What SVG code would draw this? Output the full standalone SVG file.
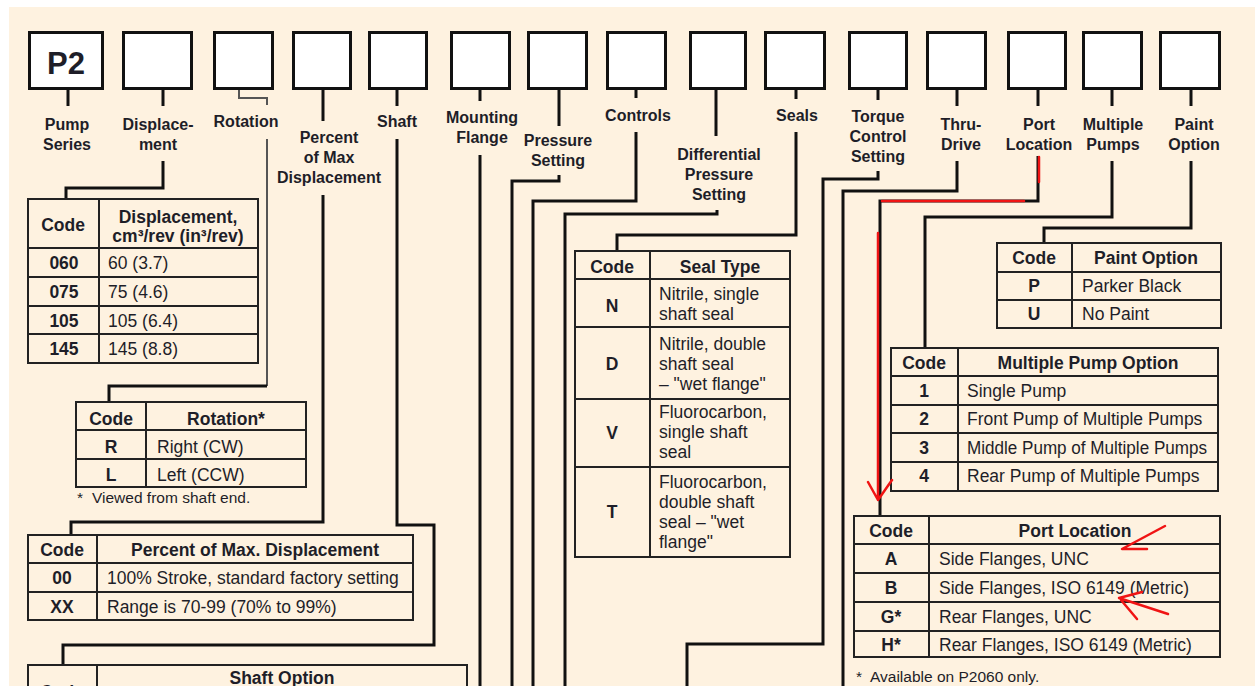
<svg xmlns="http://www.w3.org/2000/svg" width="1255" height="686" viewBox="0 0 1255 686">
<style>
.bx{fill:#fff;stroke:#111;stroke-width:3}
.ln{fill:none;stroke:#111;stroke-width:3}
.ln2{fill:none;stroke:#555;stroke-width:2}
.tb{fill:none;stroke:#222;stroke-width:2}
.red{fill:none;stroke:#f01414;stroke-width:2.5;stroke-linecap:round;stroke-linejoin:round}
text{font-family:"Liberation Sans",Arial,Helvetica,sans-serif;fill:#1e1e28}
.lbl{font-weight:bold;font-size:16px;text-anchor:middle}
.th{font-weight:bold;font-size:17.5px;text-anchor:middle}
.td{font-size:17.5px}
.fn{font-size:15.5px}
.p2{font-weight:bold;font-size:31px;text-anchor:middle}
</style>
<rect x="0" y="0" width="1255" height="686" fill="#fff"/>
<rect x="9" y="7" width="1246" height="679" fill="#fef2e0"/>

<g id="boxes">
<g id="box-p2"><rect class="bx" x="29.5" y="32.5" width="73" height="56"/><text class="p2" x="66" y="74">P2</text></g>
<g id="box-displacement"><rect class="bx" x="123.5" y="32.5" width="68" height="56"/></g>
<g id="box-rotation"><rect class="bx" x="214.5" y="32.5" width="58" height="56"/></g>
<g id="box-percent"><rect class="bx" x="293.5" y="32.5" width="57" height="56"/></g>
<g id="box-shaft"><rect class="bx" x="369.5" y="32.5" width="57" height="56"/></g>
<g id="box-mounting"><rect class="bx" x="451.5" y="32.5" width="58" height="56"/></g>
<g id="box-pressure"><rect class="bx" x="528.5" y="32.5" width="58" height="56"/></g>
<g id="box-controls"><rect class="bx" x="607.5" y="32.5" width="58" height="56"/></g>
<g id="box-diffpressure"><rect class="bx" x="690.5" y="32.5" width="55" height="56"/></g>
<g id="box-seals"><rect class="bx" x="765.5" y="32.5" width="59" height="56"/></g>
<g id="box-torque"><rect class="bx" x="849.5" y="32.5" width="57" height="56"/></g>
<g id="box-thru"><rect class="bx" x="927.5" y="32.5" width="58" height="56"/></g>
<g id="box-port"><rect class="bx" x="1008.5" y="32.5" width="57" height="56"/></g>
<g id="box-multiple"><rect class="bx" x="1083.5" y="32.5" width="58" height="56"/></g>
<g id="box-paint"><rect class="bx" x="1160.5" y="32.5" width="59" height="56"/></g>
</g>

<g id="labels">
<g id="lbl-pump"><text class="lbl" x="67" y="130">Pump</text><text class="lbl" x="67" y="150">Series</text></g>
<g id="lbl-displacement"><text class="lbl" x="158" y="130">Displace-</text><text class="lbl" x="158" y="150">ment</text></g>
<g id="lbl-rotation"><text class="lbl" x="246" y="127">Rotation</text></g>
<g id="lbl-percent"><text class="lbl" x="329" y="143">Percent</text><text class="lbl" x="329" y="163">of Max</text><text class="lbl" x="329" y="183">Displacement</text></g>
<g id="lbl-shaft"><text class="lbl" x="397" y="127">Shaft</text></g>
<g id="lbl-mounting"><text class="lbl" x="482" y="123">Mounting</text><text class="lbl" x="482" y="143">Flange</text></g>
<g id="lbl-pressure"><text class="lbl" x="558" y="146">Pressure</text><text class="lbl" x="558" y="166">Setting</text></g>
<g id="lbl-controls"><text class="lbl" x="638" y="121">Controls</text></g>
<g id="lbl-diff"><text class="lbl" x="719" y="160">Differential</text><text class="lbl" x="719" y="180">Pressure</text><text class="lbl" x="719" y="200">Setting</text></g>
<g id="lbl-seals"><text class="lbl" x="797" y="121">Seals</text></g>
<g id="lbl-torque"><text class="lbl" x="878" y="122">Torque</text><text class="lbl" x="878" y="142">Control</text><text class="lbl" x="878" y="162">Setting</text></g>
<g id="lbl-thru"><text class="lbl" x="961" y="130">Thru-</text><text class="lbl" x="961" y="150">Drive</text></g>
<g id="lbl-port"><text class="lbl" x="1039" y="130">Port</text><text class="lbl" x="1039" y="150">Location</text></g>
<g id="lbl-multiple"><text class="lbl" x="1113" y="130">Multiple</text><text class="lbl" x="1113" y="150">Pumps</text></g>
<g id="lbl-paint"><text class="lbl" x="1194" y="130">Paint</text><text class="lbl" x="1194" y="150">Option</text></g>
</g>

<g id="connectors">
<path class="ln" d="M68 90V106"/>
<path class="ln" d="M163 90V106M163 161V188H66V199"/>
<path class="ln2" d="M239 90V98H267V105"/>
<path class="ln2" d="M267 139V386"/>
<path class="ln" d="M267 386H109V402"/>
<path class="ln" d="M323 90V121M323 195V522H71V535"/>
<path class="ln" d="M397 90V106M397 139V525H434V645H63V665"/>
<path class="ln" d="M480 90V101M480 155V686"/>
<path class="ln" d="M559 90V126M559 175V181H512V686"/>
<path class="ln" d="M636 90V98M636 132V201H533V686"/>
<path class="ln" d="M716 90V136M717 210V214H565V686"/>
<path class="ln" d="M796 90V99M796 132V235H617V251"/>
<path class="ln" d="M878 90V100M878 171V179H823V644H687V686"/>
<path class="ln" d="M957 90V106M957 161V191H843V686"/>
<path class="ln" d="M1038 90V106M1038 156V201H880V516"/>
<path class="ln" d="M1112 90V106M1112 161V217H925V348"/>
<path class="ln" d="M1191 90V106M1191 161V228H1044V243"/>
</g>

<g id="table-displacement">
<rect class="tb" x="28" y="199" width="230" height="164"/>
<path class="tb" d="M99 199V363M28 248H258M28 277H258M28 306H258M28 334H258"/>
<text class="th" x="63" y="231">Code</text>
<text class="th" x="178" y="223">Displacement,</text>
<text class="th" x="178" y="242" font-size="17">cm³/rev (in³/rev)</text>
<text class="th" x="64" y="269">060</text><text class="td" x="108" y="269">60 (3.7)</text>
<text class="th" x="64" y="298">075</text><text class="td" x="108" y="298">75 (4.6)</text>
<text class="th" x="64" y="327">105</text><text class="td" x="108" y="327">105 (6.4)</text>
<text class="th" x="64" y="355">145</text><text class="td" x="108" y="355">145 (8.8)</text>
</g>

<g id="table-rotation">
<rect class="tb" x="76" y="402" width="230" height="85"/>
<path class="tb" d="M146 402V487M76 430H306M76 459H306"/>
<text class="th" x="111" y="425">Code</text>
<text class="th" x="226" y="425">Rotation*</text>
<text class="th" x="111" y="453">R</text><text class="td" x="157" y="453">Right (CW)</text>
<text class="th" x="111" y="481">L</text><text class="td" x="157" y="481">Left (CCW)</text>
<text class="fn" x="77" y="503">*</text><text class="fn" x="92" y="503">Viewed from shaft end.</text>
</g>

<g id="table-percent">
<rect class="tb" x="28" y="535" width="385" height="85"/>
<path class="tb" d="M97 535V620M28 563H413M28 592H413"/>
<text class="th" x="62" y="556">Code</text>
<text class="th" x="255" y="556">Percent of Max. Displacement</text>
<text class="th" x="62" y="584">00</text><text class="td" x="107" y="584">100% Stroke, standard factory setting</text>
<text class="th" x="62" y="613">XX</text><text class="td" x="107" y="613">Range is 70-99 (70% to 99%)</text>
</g>

<g id="table-shaft">
<rect class="tb" x="28" y="665" width="439" height="60"/>
<path class="tb" d="M97 665V725"/>
<text class="th" x="62" y="698">Code</text>
<text class="th" x="282" y="684">Shaft Option</text>
</g>

<g id="table-seals">
<rect class="tb" x="575" y="251" width="215" height="306"/>
<path class="tb" d="M650 251V557M575 279H790M575 327H790M575 399H790M575 467H790"/>
<text class="th" x="612" y="273">Code</text>
<text class="th" x="720" y="273">Seal Type</text>
<text class="th" x="612" y="312">N</text>
<text class="td" x="659" y="300">Nitrile, single</text><text class="td" x="659" y="320">shaft seal</text>
<text class="th" x="612" y="370">D</text>
<text class="td" x="659" y="350">Nitrile, double</text><text class="td" x="659" y="370">shaft seal</text><text class="td" x="659" y="390">– "wet flange"</text>
<text class="th" x="612" y="439">V</text>
<text class="td" x="659" y="418">Fluorocarbon,</text><text class="td" x="659" y="438">single shaft</text><text class="td" x="659" y="458">seal</text>
<text class="th" x="612" y="518">T</text>
<text class="td" x="659" y="488">Fluorocarbon,</text><text class="td" x="659" y="508">double shaft</text><text class="td" x="659" y="528">seal – "wet</text><text class="td" x="659" y="548">flange"</text>
</g>

<g id="table-paint">
<rect class="tb" x="997" y="243" width="224" height="85"/>
<path class="tb" d="M1072 243V328M997 272H1221M997 300H1221"/>
<text class="th" x="1034" y="264">Code</text>
<text class="th" x="1146" y="264">Paint Option</text>
<text class="th" x="1034" y="292">P</text><text class="td" x="1082" y="292">Parker Black</text>
<text class="th" x="1034" y="320">U</text><text class="td" x="1082" y="320">No Paint</text>
</g>

<g id="table-multiple">
<rect class="tb" x="891" y="348" width="327" height="143"/>
<path class="tb" d="M958 348V491M891 376H1218M891 405H1218M891 433H1218M891 462H1218"/>
<text class="th" x="924" y="369">Code</text>
<text class="th" x="1088" y="369">Multiple Pump Option</text>
<text class="th" x="924" y="397">1</text><text class="td" x="967" y="397">Single Pump</text>
<text class="th" x="924" y="425">2</text><text class="td" x="967" y="425">Front Pump of Multiple Pumps</text>
<text class="th" x="924" y="454">3</text><text class="td" x="967" y="454" textLength="240" lengthAdjust="spacingAndGlyphs">Middle Pump of Multiple Pumps</text>
<text class="th" x="924" y="482">4</text><text class="td" x="967" y="482">Rear Pump of Multiple Pumps</text>
</g>

<g id="table-port">
<rect class="tb" x="854" y="516" width="366" height="141"/>
<path class="tb" d="M929 516V657M854 544H1220M854 573H1220M854 602H1220M854 631H1220"/>
<text class="th" x="891" y="537">Code</text>
<text class="th" x="1075" y="537">Port Location</text>
<text class="th" x="891" y="565">A</text><text class="td" x="939" y="565">Side Flanges, UNC</text>
<text class="th" x="891" y="594">B</text><text class="td" x="939" y="594">Side Flanges, ISO 6149 (Metric)</text>
<text class="th" x="891" y="623">G*</text><text class="td" x="939" y="623">Rear Flanges, UNC</text>
<text class="th" x="891" y="651">H*</text><text class="td" x="939" y="651">Rear Flanges, ISO 6149 (Metric)</text>
<text class="fn" x="856" y="682">*</text><text class="fn" x="870" y="682">Available on P2060 only.</text>
</g>

<g id="annotations">
<path class="red" d="M1039 157V182"/>
<path class="red" d="M882 201H1024"/>
<path class="red" d="M878 233V500M868 482L878 500L892 480"/>
<path class="red" d="M1165 526L1122 549L1147 549"/>
<path class="red" d="M1142 592L1119 598L1168 614M1121 600L1137 619"/>
</g>
</svg>
